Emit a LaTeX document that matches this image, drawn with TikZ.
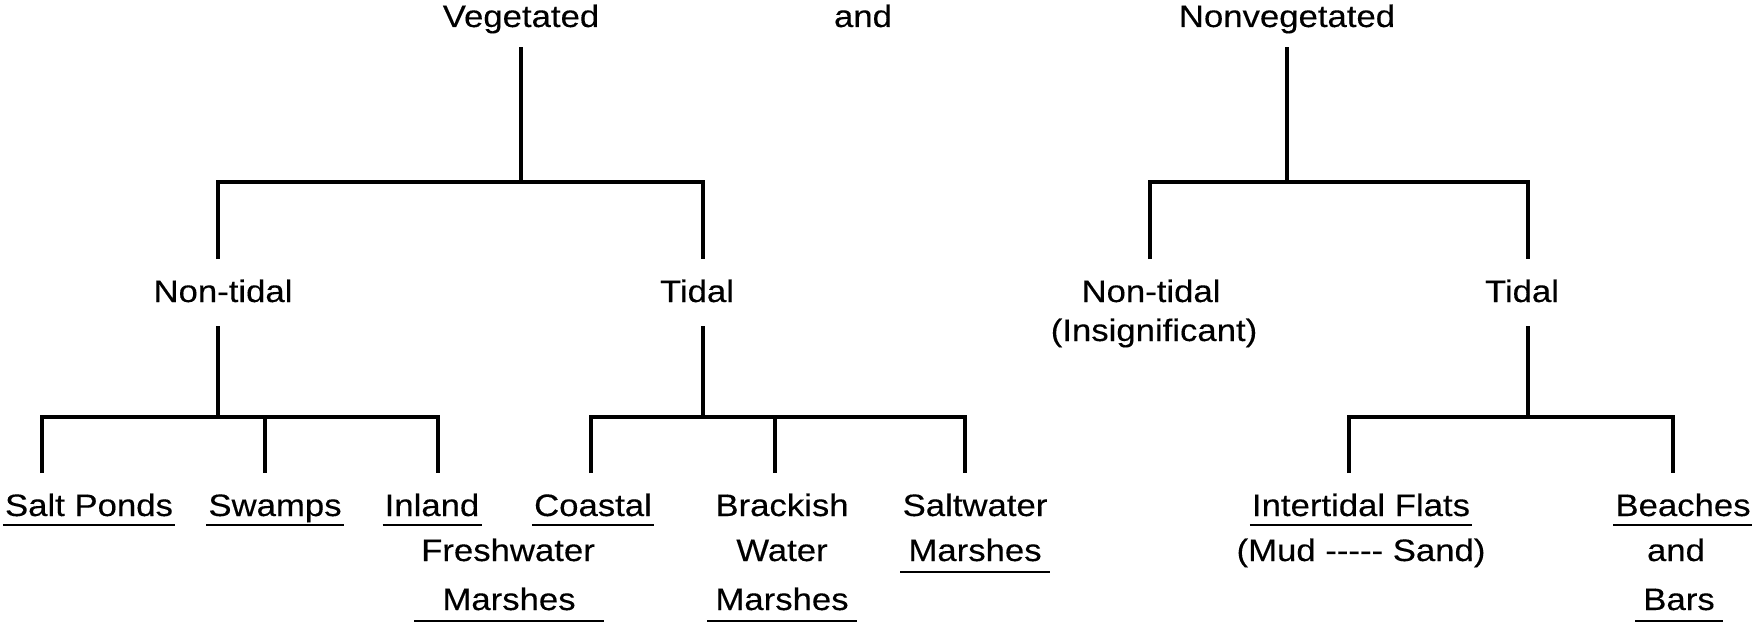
\documentclass[tikz,border=0pt]{standalone}
\usepackage{fontspec}
\setmainfont{Liberation Sans}[FakeStretch=1.12,FakeBold=0.3]
\begin{document}
\begin{tikzpicture}[x=1pt,y=-1pt,
  lbl/.style={font=\fontsize{31}{36}\selectfont, inner sep=0pt, anchor=base},
  br/.style={line width=3.2pt},
  ul/.style={line width=2.2pt}]
\useasboundingbox (0,0) rectangle (1752,621);
% text nodes
\node[lbl] (veg) at (521,27) {Vegetated};
\node[lbl] (and) at (863,27) {and};
\node[lbl] (nonveg) at (1287,27) {Nonvegetated};
\node[lbl] (vnt) at (223,302) {Non-tidal};
\node[lbl] (vt) at (697,302) {Tidal};
\node[lbl] (nnt) at (1151,302) {Non-tidal};
\node[lbl] (nins) at (1154,341) {(Insignificant)};
\node[lbl] (nt) at (1522,302) {Tidal};
\node[lbl] (sp) at (89,516) {Salt Ponds};
\node[lbl] (sw) at (275,516) {Swamps};
\node[lbl] (inl) at (432,516) {Inland};
\node[lbl] (fw) at (508,561) {Freshwater};
\node[lbl] (fm) at (509,610) {Marshes};
\node[lbl] (co) at (593,516) {Coastal};
\node[lbl] (bk) at (782,516) {Brackish};
\node[lbl] (bw) at (782,561) {Water};
\node[lbl] (bm) at (782,610) {Marshes};
\node[lbl] (sa) at (975,516) {Saltwater};
\node[lbl] (sm) at (975,561) {Marshes};
\node[lbl] (itf) at (1361,516) {Intertidal Flats};
\node[lbl] (ms) at (1361,561) {(Mud -{}-{}-{}-{}- Sand)};
\node[lbl] (be) at (1683,516) {Beaches};
\node[lbl] (ba) at (1676,561) {and};
\node[lbl] (bb) at (1679,610) {Bars};
% junction coordinates
\coordinate (v0) at (521,47);  \coordinate (v1) at (521,182);
\coordinate (va) at (218,182); \coordinate (vb) at (703,182);
\coordinate (va1) at (218,259); \coordinate (vb1) at (703,259);
\coordinate (va2) at (218,326); \coordinate (va3) at (218,417);
\coordinate (l1) at (42,417); \coordinate (l2) at (265,417); \coordinate (l3) at (438,417);
\coordinate (l1e) at (42,473); \coordinate (l2e) at (265,473); \coordinate (l3e) at (438,473);
\coordinate (vb2) at (703,326); \coordinate (vb3) at (703,417);
\coordinate (t1) at (591,417); \coordinate (t2) at (775,417); \coordinate (t3) at (965,417);
\coordinate (t1e) at (591,473); \coordinate (t2e) at (775,473); \coordinate (t3e) at (965,473);
\coordinate (n0) at (1287,47); \coordinate (n1) at (1287,182);
\coordinate (na) at (1150,182); \coordinate (nb) at (1528,182);
\coordinate (na1) at (1150,259); \coordinate (nb1) at (1528,259);
\coordinate (nb2) at (1528,326); \coordinate (nb3) at (1528,417);
\coordinate (r1) at (1349,417); \coordinate (r2) at (1673,417);
\coordinate (r1e) at (1349,473); \coordinate (r2e) at (1673,473);
% tree lines
\draw[br] (v0) -- (v1);
\draw[br] (va1) -- (va) -- (vb) -- (vb1);
\draw[br] (va2) -- (va3);
\draw[br] (l1e) -- (l1) -- (l3) -- (l3e);
\draw[br] (l2) -- (l2e);
\draw[br] (vb2) -- (vb3);
\draw[br] (t1e) -- (t1) -- (t3) -- (t3e);
\draw[br] (t2) -- (t2e);
\draw[br] (n0) -- (n1);
\draw[br] (na1) -- (na) -- (nb) -- (nb1);
\draw[br] (nb2) -- (nb3);
\draw[br] (r1e) -- (r1) -- (r2) -- (r2e);
% underlines
\foreach \n in {sp,sw,inl,co,itf,be}{
  \draw[ul] ([xshift=-2pt,yshift=-9pt]\n.base west) -- ([xshift=2pt,yshift=-9pt]\n.base east);
}
\foreach \n in {sm,bm,bb}{
  \draw[ul] ([xshift=-8pt,yshift=-11pt]\n.base west) -- ([xshift=8pt,yshift=-11pt]\n.base east);
}
\draw[ul] ([xshift=-28pt,yshift=-11pt]fm.base west) -- ([xshift=28pt,yshift=-11pt]fm.base east);
\end{tikzpicture}
\end{document}
